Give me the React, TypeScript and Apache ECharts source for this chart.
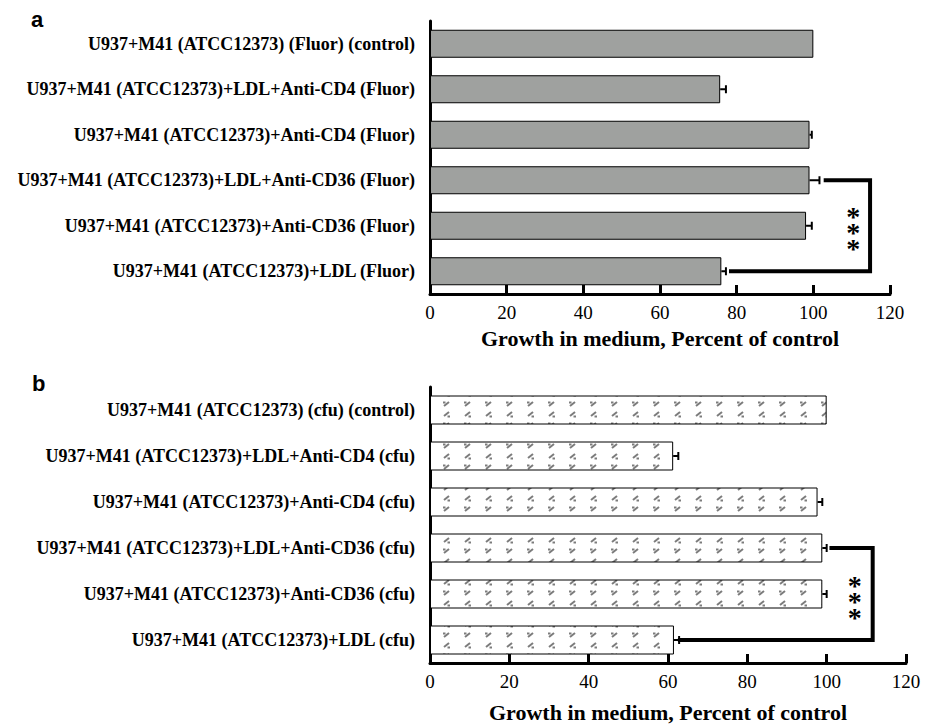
import React, { useEffect, useRef } from 'react';
import * as echarts from 'echarts';

const categoriesA = [
  'U937+M41 (ATCC12373) (Fluor) (control)',
  'U937+M41 (ATCC12373)+LDL+Anti-CD4 (Fluor)',
  'U937+M41 (ATCC12373)+Anti-CD4 (Fluor)',
  'U937+M41 (ATCC12373)+LDL+Anti-CD36 (Fluor)',
  'U937+M41 (ATCC12373)+Anti-CD36 (Fluor)',
  'U937+M41 (ATCC12373)+LDL (Fluor)',
];
const valuesA = [100, 75.7, 99.0, 99.0, 98.1, 76.0];
const errorsA = [0, 1.5, 0.6, 2.6, 1.5, 1.2];

const categoriesB = [
  'U937+M41 (ATCC12373) (cfu) (control)',
  'U937+M41 (ATCC12373)+LDL+Anti-CD4 (cfu)',
  'U937+M41 (ATCC12373)+Anti-CD4 (cfu)',
  'U937+M41 (ATCC12373)+LDL+Anti-CD36 (cfu)',
  'U937+M41 (ATCC12373)+Anti-CD36 (cfu)',
  'U937+M41 (ATCC12373)+LDL (cfu)',
];
const valuesB = [100, 61.3, 97.7, 98.9, 98.9, 61.5];
const errorsB = [0, 1.3, 1.2, 1.1, 1.1, 1.3];

const xMin = 0;
const xMax = 120;
const xInterval = 20;
const axisName = 'Growth in medium, Percent of control';

// significance bracket: [topStartX, topCat, bottomStartX, bottomCat, rightX, starX, starCat]
const bracketA = [102.7, 3, 78, 5, 114.8, 110.4, 4];
const bracketB = [100.7, 3, 62.5, 5, 111.6, 107.1, 4];
const starText = '*\n*\n*';

const panelLabels = ['a', 'b'];

function makePattern(): HTMLCanvasElement {
  const c = document.createElement('canvas');
  c.width = 21;
  c.height = 21;
  const ctx = c.getContext('2d')!;
  ctx.fillStyle = '#ffffff';
  ctx.fillRect(0, 0, 21, 21);
  ctx.strokeStyle = '#7c7c7c';
  ctx.lineWidth = 2;
  ctx.beginPath();
  ctx.moveTo(3, 7);
  ctx.lineTo(8, 3);
  ctx.stroke();
  ctx.beginPath();
  ctx.moveTo(2, 3.5);
  ctx.lineTo(4.5, 3.5);
  ctx.stroke();
  ctx.beginPath();
  ctx.moveTo(3, 17);
  ctx.lineTo(8, 13);
  ctx.stroke();
  ctx.beginPath();
  ctx.moveTo(6.5, 17.5);
  ctx.lineTo(9, 17.5);
  ctx.stroke();
  return c;
}

const serif = 'Liberation Serif';
const sans = 'Liberation Sans';

function errorRender(params: any, api: any) {
  const v = api.value(0);
  const c = api.value(1);
  const e = api.value(2);
  if (!e) return { type: 'group', children: [] };
  const p0 = api.coord([v, c]);
  const p1 = api.coord([v + e, c]);
  return {
    type: 'group',
    children: [
      { type: 'line', shape: { x1: p0[0], y1: p0[1], x2: p1[0], y2: p1[1] }, style: { stroke: '#000', lineWidth: 2 } },
      { type: 'line', shape: { x1: p1[0], y1: p1[1] - 4, x2: p1[0], y2: p1[1] + 4 }, style: { stroke: '#000', lineWidth: 2 } },
    ],
  };
}

function bracketRender(params: any, api: any) {
  const t = api.coord([api.value(0), api.value(1)]);
  const b = api.coord([api.value(2), api.value(3)]);
  const r = api.value(4);
  const tr = api.coord([r, api.value(1)]);
  const br = api.coord([r, api.value(3)]);
  const s = api.coord([api.value(5), api.value(6)]);
  return {
    type: 'group',
    children: [
      {
        type: 'polyline',
        shape: { points: [t, tr, br, b] },
        style: { stroke: '#000', lineWidth: 4, fill: 'none', lineJoin: 'miter' },
      },
      {
        type: 'text',
        x: s[0],
        y: s[1] + 7,
        style: {
          text: starText,
          fontFamily: serif,
          fontWeight: 'bold',
          fontSize: 28,
          lineHeight: 16,
          fill: '#000',
          align: 'center',
          verticalAlign: 'middle',
        },
      },
    ],
  };
}

export default function App() {
  const ref = useRef<HTMLDivElement>(null);
  useEffect(() => {
    document.body.style.margin = '0';
    const chart = echarts.init(ref.current!, null, { renderer: 'svg' });
    const pattern = makePattern();

    const xAxisBase = (gridIndex: number) => ({
      type: 'value',
      gridIndex,
      min: xMin,
      max: xMax,
      interval: xInterval,
      axisLine: { show: true, lineStyle: { color: '#000', width: 3 } },
      axisTick: { show: true, inside: true, length: 9, lineStyle: { color: '#000', width: 3 } },
      axisLabel: { color: '#000', fontFamily: serif, fontSize: 19, margin: 9 },
      splitLine: { show: false },
      name: axisName,
      nameLocation: 'middle',
      nameGap: gridIndex === 0 ? 33 : 38,
      nameTextStyle: { color: '#000', fontFamily: serif, fontWeight: 'bold', fontSize: 22 },
    });
    const yAxisBase = (gridIndex: number, data: string[]) => ({
      type: 'category',
      gridIndex,
      data,
      inverse: true,
      axisLine: { show: true, lineStyle: { color: '#000', width: 3 } },
      axisTick: { show: false },
      axisLabel: { color: '#000', fontFamily: serif, fontWeight: 'bold', fontSize: 18, margin: 15 },
    });

    chart.setOption({
      animation: false,
      backgroundColor: '#fff',
      grid: [
        { left: 430, right: 43, top: 21, bottom: 430 },
        { left: 430, right: 27, top: 387, bottom: 60 },
      ],
      xAxis: [xAxisBase(0), xAxisBase(1)],
      yAxis: [yAxisBase(0, categoriesA), yAxisBase(1, categoriesB)],
      graphic: [
        { type: 'text', left: 31, top: 8, style: { text: panelLabels[0], fontFamily: sans, fontWeight: 'bold', fontSize: 22, fill: '#000' } },
        { type: 'text', left: 32, top: 372, style: { text: panelLabels[1], fontFamily: sans, fontWeight: 'bold', fontSize: 22, fill: '#000' } },
      ],
      series: [
        {
          type: 'bar',
          xAxisIndex: 0,
          yAxisIndex: 0,
          data: valuesA,
          barWidth: 28,
          itemStyle: { color: '#9fa19f', borderColor: '#000', borderWidth: 1 },
        },
        {
          type: 'bar',
          xAxisIndex: 1,
          yAxisIndex: 1,
          data: valuesB,
          barWidth: 29,
          itemStyle: { color: { image: pattern, repeat: 'repeat' }, borderColor: '#000', borderWidth: 1 },
        },
        {
          type: 'custom',
          xAxisIndex: 0,
          yAxisIndex: 0,
          data: valuesA.map((v, i) => [v, i, errorsA[i]]),
          encode: { x: 0, y: 1 },
          renderItem: errorRender,
          z: 5,
        },
        {
          type: 'custom',
          xAxisIndex: 1,
          yAxisIndex: 1,
          data: valuesB.map((v, i) => [v, i, errorsB[i]]),
          encode: { x: 0, y: 1 },
          renderItem: errorRender,
          z: 5,
        },
        {
          type: 'custom',
          xAxisIndex: 0,
          yAxisIndex: 0,
          data: [bracketA],
          encode: { x: [0, 2, 4, 5], y: [1, 3, 6] },
          renderItem: bracketRender,
          clip: false,
          z: 5,
        },
        {
          type: 'custom',
          xAxisIndex: 1,
          yAxisIndex: 1,
          data: [bracketB],
          encode: { x: [0, 2, 4, 5], y: [1, 3, 6] },
          renderItem: bracketRender,
          clip: false,
          z: 5,
        },
      ],
    });
    return () => chart.dispose();
  }, []);
  return <div ref={ref} style={{ width: 933, height: 724 }} />;
}
